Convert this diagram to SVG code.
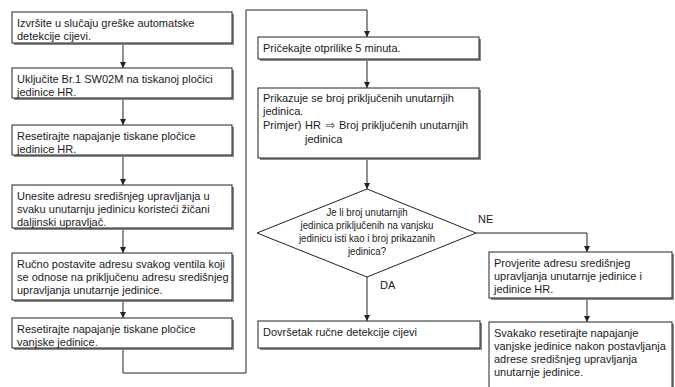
<svg xmlns="http://www.w3.org/2000/svg" width="675" height="387" viewBox="0 0 675 387">
<style>
text{font-family:"Liberation Sans",Arial,sans-serif;font-size:11px;fill:#1a1a1a}
.box{fill:#fff;stroke:#222;stroke-width:1}
.sh{fill:#8a8a8a}
.con{fill:none;stroke:#222;stroke-width:1}
.dia{fill:#fff;stroke:#222;stroke-width:1}
.arr{font-family:"DejaVu Sans",sans-serif;font-size:11px}
</style>
<defs>
<marker id="ah" markerUnits="userSpaceOnUse" markerWidth="7" markerHeight="7" refX="6" refY="3" orient="auto">
<path d="M0,0 L6,3 L0,6 z" fill="#222"/>
</marker>
</defs>
<rect width="675" height="387" fill="#fff"/>
<g id="connectors">
<path class="con" d="M123,43 V68" marker-end="url(#ah)"/>
<path class="con" d="M123,98 V125" marker-end="url(#ah)"/>
<path class="con" d="M123,155 V185" marker-end="url(#ah)"/>
<path class="con" d="M123,228 V253" marker-end="url(#ah)"/>
<path class="con" d="M123,300 V318" marker-end="url(#ah)"/>
<path class="con" d="M123,348 V373 H246 V10 H367 V37" marker-end="url(#ah)"/>
<path class="con" d="M367,59 V88" marker-end="url(#ah)"/>
<path class="con" d="M367,158 V189" marker-end="url(#ah)"/>
<path class="con" d="M367,277 V321" marker-end="url(#ah)"/>
<path class="con" d="M476,233 H587 V252" marker-end="url(#ah)"/>
<path class="con" d="M587,298 V322" marker-end="url(#ah)"/>
<text x="478" y="223">NE</text>
<text x="380" y="289">DA</text>
</g>
<g id="n1">
<rect class="sh" x="14" y="14" width="220" height="31"/>
<rect class="box" x="12" y="12" width="220" height="31"/>
<text x="17" y="26.5">Izvršite u slučaju greške automatske</text>
<text x="17" y="39.5">detekcije cijevi.</text>
</g>
<g id="n2">
<rect class="sh" x="14" y="70" width="220" height="30"/>
<rect class="box" x="12" y="68" width="220" height="30"/>
<text x="17" y="82.5">Uključite Br.1 SW02M na tiskanoj pločici</text>
<text x="17" y="95.5">jedinice HR.</text>
</g>
<g id="n3">
<rect class="sh" x="14" y="127" width="220" height="30"/>
<rect class="box" x="12" y="125" width="220" height="30"/>
<text x="17" y="139.5">Resetirajte napajanje tiskane pločice</text>
<text x="17" y="152.5">jedinice HR.</text>
</g>
<g id="n4">
<rect class="sh" x="14" y="187" width="220" height="43"/>
<rect class="box" x="12" y="185" width="220" height="43"/>
<text x="17" y="199.5">Unesite adresu središnjeg upravljanja u</text>
<text x="17" y="212.5">svaku unutarnju jedinicu koristeći žičani</text>
<text x="17" y="225.5">daljinski upravljač.</text>
</g>
<g id="n5">
<rect class="sh" x="14" y="255" width="220" height="47"/>
<rect class="box" x="12" y="253" width="220" height="47"/>
<text x="17" y="267.5">Ručno postavite adresu svakog ventila koji</text>
<text x="17" y="280.5">se odnose na priključenu adresu središnjeg</text>
<text x="17" y="293.5">upravljanja unutarnje jedinice.</text>
</g>
<g id="n6">
<rect class="sh" x="14" y="320" width="220" height="30"/>
<rect class="box" x="12" y="318" width="220" height="30"/>
<text x="17" y="332.5">Resetirajte napajanje tiskane pločice</text>
<text x="17" y="345.5">vanjske jedinice.</text>
</g>
<g id="n7">
<rect class="sh" x="260" y="39" width="221" height="22"/>
<rect class="box" x="258" y="37" width="221" height="22"/>
<text x="263" y="52">Pričekajte otprilike 5 minuta.</text>
</g>
<g id="n8">
<rect class="sh" x="260" y="90" width="221" height="70"/>
<rect class="box" x="258" y="88" width="221" height="70"/>
<text x="263" y="102">Prikazuje se broj priključenih unutarnjih</text>
<text x="263" y="115">jedinica.</text>
<text x="263" y="129">Primjer)</text>
<text x="305" y="129">HR</text>
<text class="arr" x="326" y="129">⇨</text>
<text x="339" y="129">Broj priključenih unutarnjih</text>
<text x="305" y="143">jedinica</text>
</g>
<g id="n9">
<polygon class="dia" points="367,189 476,233 367,277 257,233"/>
<g transform="translate(367,0) scale(0.88,1)">
<text x="0" y="216" text-anchor="middle">Je li broj unutarnjih</text>
<text x="0" y="229" text-anchor="middle">jedinica priključenih na vanjsku</text>
<text x="0" y="242" text-anchor="middle">jedinicu isti kao i broj prikazanih</text>
<text x="0" y="255" text-anchor="middle">jedinica?</text>
</g>
</g>
<g id="n10">
<rect class="sh" x="260" y="323" width="222" height="27"/>
<rect class="box" x="258" y="321" width="222" height="27"/>
<text x="263" y="335.5">Dovršetak ručne detekcije cijevi</text>
</g>
<g id="n11">
<rect class="sh" x="491" y="254" width="183" height="46"/>
<rect class="box" x="489" y="252" width="183" height="46"/>
<text x="494" y="266.5">Provjerite adresu središnjeg</text>
<text x="494" y="279.5">upravljanja unutarnje jedinice i</text>
<text x="494" y="292.5">jedinice HR.</text>
</g>
<g id="n12">
<rect class="sh" x="491" y="324" width="183" height="66"/>
<rect class="box" x="489" y="322" width="183" height="66"/>
<text x="494" y="336.5">Svakako resetirajte napajanje</text>
<text x="494" y="349.5">vanjske jedinice nakon postavljanja</text>
<text x="494" y="362.5">adrese središnjeg upravljanja</text>
<text x="494" y="375.5">unutarnje jedinice.</text>
</g>
</svg>
